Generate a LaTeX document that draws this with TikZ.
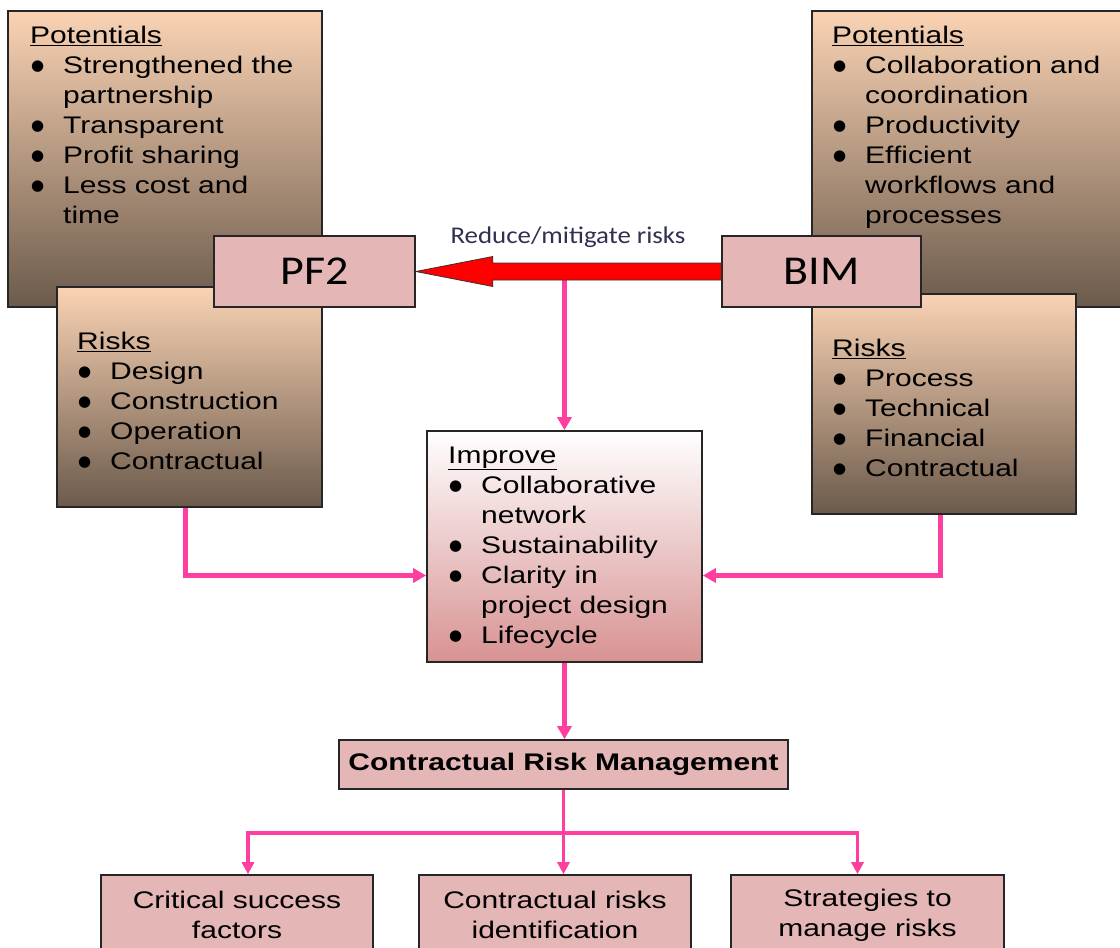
\documentclass[tikz,border=0pt]{standalone}
\usepackage{fontspec}
\setmainfont{Liberation Sans}
\newfontfamily\bodyfont[FakeStretch=1.25]{Liberation Sans}
\newfontfamily\calfont[FakeStretch=1.12]{Carlito}
\newfontfamily\dotfont{DejaVu Sans}
\usetikzlibrary{arrows.meta,calc}

\definecolor{peach}{HTML}{FAD3B4}
\definecolor{umber}{HTML}{6B5A4B}
\definecolor{rose}{HTML}{E4B6B6}
\definecolor{roseDeep}{HTML}{D89292}
\definecolor{hotpink}{HTML}{FF3FA0}
\definecolor{labelink}{HTML}{303050}

% list helpers: underlined heading spanning both columns, bullet cell
\newcommand\hd[1]{\multicolumn{2}{@{}l@{}}{\underline{#1}}}
\newcommand\bu{\hspace{1pt}\raisebox{2.5pt}{\dotfont\fontsize{15}{15}\selectfont ●}}
\newenvironment{blist}{\begin{tabular}{@{}p{33pt}@{}l@{}}}{\end{tabular}}

\tikzset{
  gradbox/.style={draw=black!85, line width=1.6pt, top color=peach, bottom color=umber, inner sep=0pt},
  rosebox/.style={draw=black!85, line width=1.6pt, fill=rose, inner sep=0pt},
  listtext/.style={anchor=north west, inner sep=0pt, font=\bodyfont\fontsize{24}{30}\selectfont},
  bigname/.style={font=\calfont\fontsize{41}{46}\selectfont},
  link/.style={draw=hotpink, line width=5pt, -{Triangle[length=13pt,width=14pt]}},
  thinlink/.style={draw=hotpink, line width=3.5pt, -{Triangle[length=12pt,width=12pt]}},
}

\begin{document}
\begin{tikzpicture}[x=1pt, y=-1pt]
\useasboundingbox (0,0) rectangle (1120,948);
\clip (0,0) rectangle (1120,948);

% ---------- PF2 side ----------
\node[gradbox, minimum width=314pt, minimum height=296pt] (potL) at (165,159) {};
\node[listtext] (potLtext) at (30,22) {\begin{blist}
\hd{Potentials}\\
\bu & Strengthened the\\
    & partnership\\
\bu & Transparent\\
\bu & Profit sharing\\
\bu & Less cost and\\
    & time
\end{blist}};

\node[gradbox, minimum width=265pt, minimum height=220pt] (riskL) at (189.5,397) {};
\node[listtext] (riskLtext) at (77,328) {\begin{blist}
\hd{Risks}\\
\bu & Design\\
\bu & Construction\\
\bu & Operation\\
\bu & Contractual
\end{blist}};

\node[rosebox, bigname, minimum width=201pt, minimum height=71pt] (pf2) at (314.5,271.5) {PF2};

% ---------- BIM side ----------
\node[gradbox, minimum width=330pt, minimum height=296pt] (potR) at (977,159) {};
\node[listtext] (potRtext) at (832,22) {\begin{blist}
\hd{Potentials}\\
\bu & Collaboration and\\
    & coordination\\
\bu & Productivity\\
\bu & Efficient\\
    & workflows and\\
    & processes
\end{blist}};

\node[gradbox, minimum width=264pt, minimum height=220pt] (riskR) at (944,404) {};
\node[listtext] (riskRtext) at (832,335) {\begin{blist}
\hd{Risks}\\
\bu & Process\\
\bu & Technical\\
\bu & Financial\\
\bu & Contractual
\end{blist}};

\node[rosebox, bigname, minimum width=199pt, minimum height=71pt] (bim) at (821.5,271.5) {BIM};

% ---------- centre: improvements ----------
\node[draw=black!85, line width=1.6pt, top color=white, bottom color=roseDeep,
      minimum width=275pt, minimum height=231pt, inner sep=0pt] (improve) at (564.5,546.5) {};
\node[listtext] (improvetext) at (448,442) {\begin{blist}
\hd{Improve}\\
\bu & Collaborative\\
    & network\\
\bu & Sustainability\\
\bu & Clarity in\\
    & project design\\
\bu & Lifecycle
\end{blist}};

% shaft edges of the big arrow
\coordinate (shaftlow) at ($(bim.west)+(0,8.5)$);
\coordinate (shafthigh) at ($(bim.west)+(0,-8.5)$);

% pink links into the centre box
\draw[link] (improve.north |- shaftlow) -- (improve.north);
\draw[link] ($(riskL.south)+(-4,0)$) |- ($(improve.west)+(0,29)$);
\draw[link] ($(riskR.south)+(-4,0)$) |- ($(improve.east)+(0,29)$);

% big red arrow BIM -> PF2
\draw[fill=red, draw=black!80, line width=0.8pt, line join=miter]
  (pf2.east) -- ($(pf2.east)+(77,-15)$) -- ($(pf2.east |- shafthigh)+(77,0)$)
  -- (shafthigh) -- (shaftlow) -- ($(pf2.east |- shaftlow)+(77,0)$)
  -- ($(pf2.east)+(77,15)$) -- cycle;
\node[font=\calfont\fontsize{24}{28}\selectfont, text=labelink, inner sep=0pt] (mitigate) at (568,237) {Reduce/mitigate risks};

% ---------- risk management ----------
\node[rosebox, font=\bodyfont\bfseries\fontsize{24}{30}\selectfont, minimum width=449pt, minimum height=49pt] (crm) at (563.5,764.5) {Contractual Risk Management};
\draw[link] (improve.south) -- (improve.south |- crm.north);

\tikzset{leaf/.style={rosebox, font=\bodyfont\fontsize{24}{30}\selectfont, align=center, minimum height=80pt}}
\node[leaf, minimum width=272pt] (b1) at (237,915) {Critical success\\factors};
\node[leaf, minimum width=272pt] (b2) at (555,915) {Contractual risks\\identification};
\node[leaf, minimum width=273pt] (b3) at (867.5,915) {Strategies to\\manage risks};

\coordinate (fork) at ($(crm.south)+(0,43)$);
\draw[thinlink] (fork) -| ($(b1.north)+(11,0)$);
\draw[thinlink] (fork) -| ($(b3.north)+(-10,0)$);
\draw[thinlink] (crm.south) -- (crm.south |- b2.north);
\end{tikzpicture}
\end{document}
